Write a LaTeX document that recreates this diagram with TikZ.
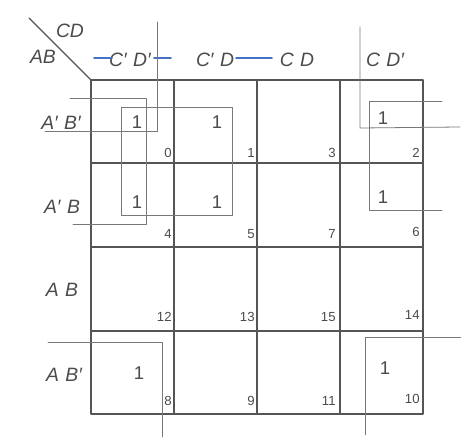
\documentclass[tikz,border=0pt]{standalone}
\usepackage{fontspec}
\setmainfont{Liberation Sans}
\definecolor{gridgray}{RGB}{85,85,85}
\definecolor{loopgray}{RGB}{120,120,120}
\definecolor{markblue}{RGB}{68,114,196}
\definecolor{textgray}{RGB}{75,75,75}
\tikzset{
  gridline/.style={line width=0.75pt,gridgray},
  loopline/.style={line width=0.45pt,loopgray},
  blueline/.style={line width=0.9pt,markblue},
  varlabel/.style={font=\fontsize{11}{13}\selectfont\itshape,text=textgray},
  entry/.style={font=\fontsize{10.5}{12}\selectfont,text=textgray},
  cellno/.style={font=\fontsize{7.5}{9}\selectfont,text=textgray,anchor=south east,inner sep=0pt}
}
\begin{document}
\begin{tikzpicture}[x=0.02cm,y=-0.02cm,line cap=round,line join=round]
  \useasboundingbox (0,0) rectangle (461,442);
  \coordinate (NW) at (91,80);
  \coordinate (SE) at (423,414);
  \coordinate (corner) at (29,18);
  \draw[gridline] (NW) rectangle (SE);
  \draw[gridline] (174,80) -- (174,414);
  \draw[gridline] (257,80) -- (257,414);
  \draw[gridline] (340,80) -- (340,414);
  \draw[gridline] (91,163) -- (423,163);
  \draw[gridline] (91,247) -- (423,247);
  \draw[gridline] (91,331) -- (423,331);
  \draw[gridline] (corner) -- (NW);
  \node[varlabel] (cd) at (70,31) {CD};
  \node[varlabel] (ab) at (43,57) {AB};
  \node[varlabel] (col0) at (130,60) {C′\,\,D′};
  \node[varlabel] (col1) at (215,60) {C′\,\,D};
  \node[varlabel] (col3) at (297,60) {C\,\,D};
  \node[varlabel] (col2) at (385,60) {C\,\,D′};
  \node[varlabel] (row0) at (61,123) {A′\,\,B′};
  \node[varlabel] (row1) at (62,207) {A′\,\,B};
  \node[varlabel] (row3) at (62,290) {A\,\,B};
  \node[varlabel] (row2) at (64,375) {A\,\,B′};
  \draw[blueline] (94,58) -- (112,58);
  \draw[blueline] (154,58) -- (171,58);
  \draw[blueline] (236,58) -- (272,58);
  \draw[loopline] (121,107) rectangle (232,215);
  \draw[loopline] (70,98) -- (146,98) -- (146,224) -- (73,224);
  \draw[loopline] (442,101) -- (369,101) -- (369,210) -- (442,210);
  \draw[loopline] (157,22) -- (157,131) -- (45,131);
  \draw[loopline] (360,27) -- (360,128) -- (460,127);
  \draw[loopline] (48,342) -- (162,342) -- (162,437);
  \draw[loopline] (461,337) -- (365,337) -- (365,435);
  \node[entry] (m0) at (137,122) {1};
  \node[entry] (m1) at (217,122) {1};
  \node[entry] (m4) at (137,202) {1};
  \node[entry] (m5) at (217,202) {1};
  \node[entry] (m2) at (383,118) {1};
  \node[entry] (m6) at (383,197) {1};
  \node[entry] (m8) at (139,373) {1};
  \node[entry] (m10) at (385,368) {1};
  \node[cellno] (n0) at (172,158) {0};
  \node[cellno] (n1) at (255,158) {1};
  \node[cellno] (n3) at (336,158) {3};
  \node[cellno] (n2) at (420,158) {2};
  \node[cellno] (n4) at (172,239) {4};
  \node[cellno] (n5) at (255,239) {5};
  \node[cellno] (n7) at (336,239) {7};
  \node[cellno] (n6) at (420,237) {6};
  \node[cellno] (n12) at (172,322) {12};
  \node[cellno] (n13) at (255,322) {13};
  \node[cellno] (n15) at (336,322) {15};
  \node[cellno] (n14) at (420,320) {14};
  \node[cellno] (n8) at (172,406) {8};
  \node[cellno] (n9) at (255,406) {9};
  \node[cellno] (n11) at (336,406) {11};
  \node[cellno] (n10) at (420,404) {10};
\end{tikzpicture}
\end{document}
